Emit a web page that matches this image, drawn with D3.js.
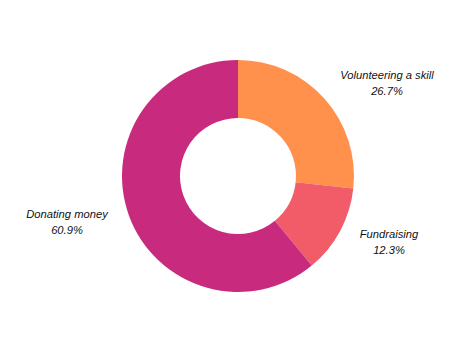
<!DOCTYPE html>
<html>
<head>
<meta charset="utf-8">
<script src="https://cdn.jsdelivr.net/npm/d3@7"></script>
<style>
  body { margin: 0; background: #fff; }
  .lbl { font-family: "Liberation Sans", Arial, sans-serif; font-style: italic; font-size: 11.2px; fill: #111; }
</style>
</head>
<body>
<div id="chart"></div>
<script>
// slices, clockwise from 12 o'clock
const categories = ["Volunteering a skill", "Fundraising", "Donating money"];
const values = [26.7, 12.3, 60.9];
const colors = ["#FF914D", "#F25C69", "#C82A7E"];

const width = 469, height = 352;
const cx = 238, cy = 176;
const outerR = 116, innerR = 58;

const svg = d3.select("#chart").append("svg")
    .attr("width", width)
    .attr("height", height);

const g = svg.append("g").attr("transform", `translate(${cx},${cy})`);

const pie = d3.pie().sort(null).value(d => d.value);
const arc = d3.arc().innerRadius(innerR).outerRadius(outerR);

const data = categories.map((c, i) => ({ name: c, value: values[i], color: colors[i] }));
const arcs = pie(data);

g.selectAll("path")
    .data(arcs)
    .enter()
    .append("path")
    .attr("d", arc)
    .attr("fill", d => d.data.color);

// label anchors (first line baseline), relative to the ring centre
const labelPos = [[149, -97], [151, 62], [-171, 42]];

const lbl = g.selectAll(".lbl")
    .data(arcs)
    .enter()
    .append("text")
    .attr("class", "lbl")
    .attr("text-anchor", "middle")
    .attr("transform", (d, i) => `translate(${labelPos[i][0]},${labelPos[i][1]})`);

lbl.append("tspan").attr("x", 0).attr("dy", 0).text(d => d.data.name);
lbl.append("tspan").attr("x", 0).attr("dy", 16).text(d => d3.format(".1f")(d.data.value) + "%");
</script>
</body>
</html>
